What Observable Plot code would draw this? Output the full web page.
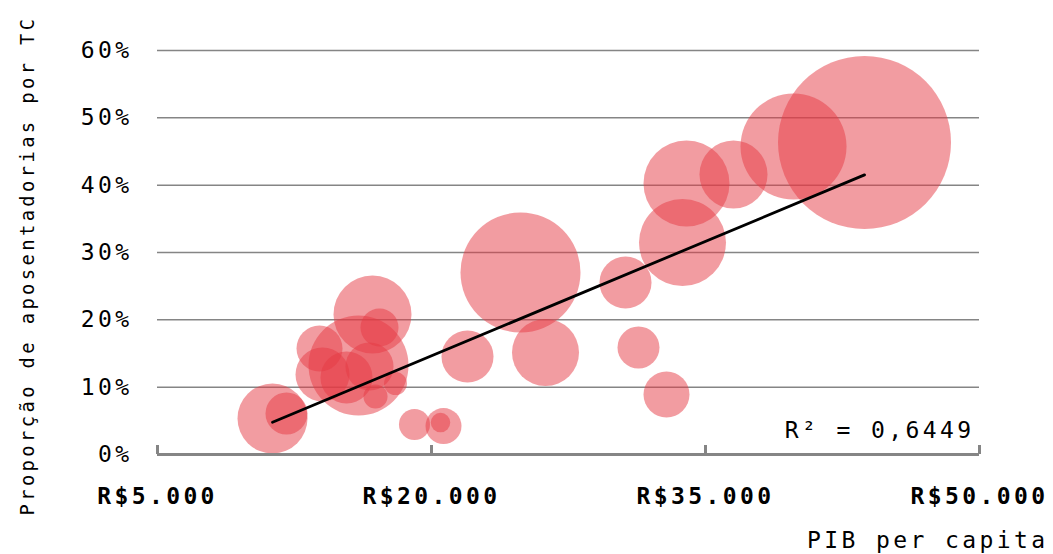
<!DOCTYPE html>
<html><head><meta charset="utf-8">
<script src="https://cdn.jsdelivr.net/npm/d3@7"></script>
<script src="https://cdn.jsdelivr.net/npm/@observablehq/plot@0.6"></script>
<style>body{margin:0;background:#fff}</style>
</head><body><div id="chart"></div>
<script>
const gdpPerCapita = [43705,39818,36533,33960,33741,30621,31332,32865,24872,26241,21971,19069,20657,20493,11296,12062,16770,17153,16004,13869,14033,16606,15347,16934,18029];
const shareTC      = [46.34,45.74,41.58,40.25,31.48,25.54,15.89,8.91,27.03,15.15,14.55,4.46,4.23,4.75,5.35,6.09,20.79,18.86,13.22,15.74,11.88,13.07,11.44,8.61,10.54];
const population   = [46.0,17.27,7.11,11.37,11.63,4.16,2.71,3.25,22.13,6.90,4.16,1.48,1.99,0.58,7.53,2.71,9.35,2.22,15.37,3.25,4.48,3.54,4.16,0.89,0.81];
const xTicks = [5000, 20000, 35000, 50000];
const yTicks = [0, 10, 20, 30, 40, 50, 60];
const xTitle = "PIB per capita";
const yTitle = "Proporção de aposentadorias por TC";
const r2Label = "R² = 0,6449";

const data = gdpPerCapita.map((x, i) => ({x, y: shareTC[i], pop: population[i]}));
const fmtBRL = d => "R$" + d3.format(",")(d).replace(/,/g, ".");
const grey = "#858585";

const chart = Plot.plot({
  width: 1053, height: 554,
  marginLeft: 157, marginRight: 74, marginTop: 50, marginBottom: 100,
  style: {fontFamily: "'DejaVu Sans Mono', monospace", fontSize: "23px", letterSpacing: "3.4px", color: "#000", background: "#fff", overflow: "visible"},
  x: {domain: [5000, 50000]},
  y: {domain: [0, 60]},
  r: {domain: [0, d3.max(population)], range: [0, 86.5]},
  marks: [
    Plot.gridY(yTicks.filter(d => d > 0), {stroke: grey, strokeOpacity: 1, strokeWidth: 1.5}),
    Plot.dot(data, {x: "x", y: "y", r: "pop", fill: "#e53943", fillOpacity: 0.5}),
    Plot.linearRegressionY(data, {x: "x", y: "y", ci: 0, stroke: "#000", strokeWidth: 2.8}),
    Plot.ruleY([0], {stroke: grey, strokeWidth: 3}),
    Plot.axisX(xTicks, {tickSize: 9, dy: -9, tickFormat: () => "", stroke: grey, strokeWidth: 3, label: null}),
    Plot.axisX(xTicks, {tickSize: 0, tickPadding: 33, tickFormat: fmtBRL, fontWeight: "bold", fill: "#000", label: null}),
    Plot.axisY(yTicks, {tickSize: 0, tickPadding: 25, tickFormat: d => d + "%", fill: "#000", label: null}),
    Plot.text([r2Label], {frameAnchor: "bottom-right", textAnchor: "end", lineAnchor: "bottom", dx: -5, dy: -17, fill: "#000"}),
    Plot.text([xTitle], {frameAnchor: "bottom-right", textAnchor: "end", lineAnchor: "bottom", dx: 69, dy: 93, fill: "#000"}),
    Plot.text([yTitle], {frameAnchor: "left", textAnchor: "middle", rotate: -90, lineAnchor: "middle", dx: -130, dy: 13, fontSize: 18.8, fill: "#000"})
  ]
});
document.getElementById("chart").appendChild(chart);
</script>
</body></html>
